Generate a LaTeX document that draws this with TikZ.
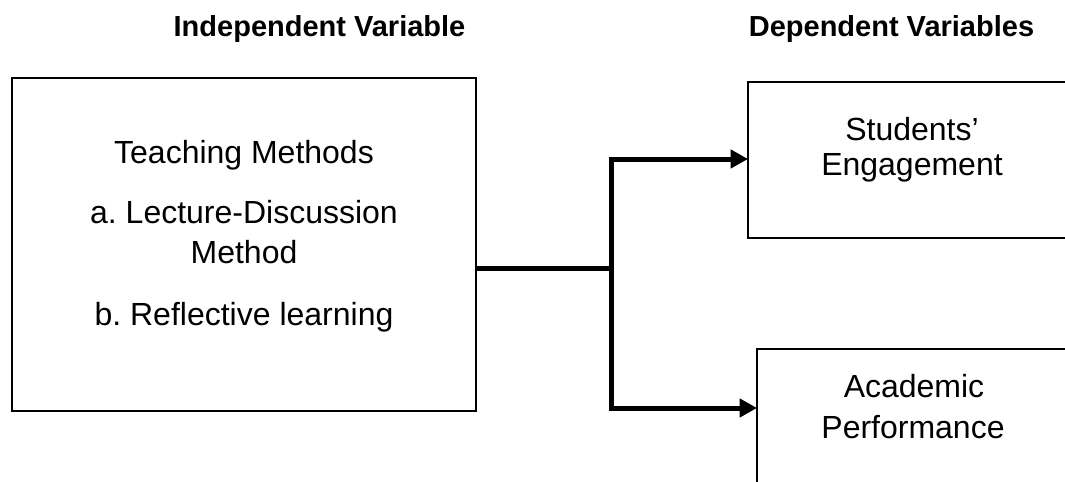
\documentclass[tikz,border=0pt]{standalone}
\usepackage{fontspec}
\setmainfont{Liberation Sans}
\usetikzlibrary{arrows.meta}
\frenchspacing
\begin{document}
\begin{tikzpicture}[x=0.75pt,y=-0.75pt,
  boxa/.style={draw=black,line width=1.6pt,inner sep=0pt,outer sep=0pt},
  boxb/.style={draw=black,line width=1.3pt,inner sep=0pt,outer sep=0pt},
  head/.style={font=\fontsize{21.75pt}{26pt}\selectfont\bfseries,anchor=base,inner sep=0pt},
  body/.style={font=\fontsize{24pt}{29pt}\selectfont,anchor=base,inner sep=0pt},
  conn/.style={line width=3.75pt,line join=miter},
  tip/.style={-{Triangle[length=13pt,width=13.5pt]}}]
\useasboundingbox (0,0) rectangle (1065,482);
\clip (0,0) rectangle (1065,482);
% headings
\node[head] (hi) at (319.5,36) {Independent Variable};
\node[head] (hd) at (891.5,36) {Dependent Variables};
% boxes
\node[boxa,minimum width=348pt,minimum height=249.75pt] (tm) at (244,244.5) {};
\node[boxb,minimum width=249pt,minimum height=117pt] (se) at (914,160) {};
\node[boxb,minimum width=242.25pt,minimum height=113.25pt] (ap) at (918.5,424.5) {};
% texts
\node[body] (t1) at (244,163) {Teaching Methods};
\node[body] (t2) at (244,223) {a.\ Lecture-Discussion};
\node[body] (t3) at (244,263) {Method};
\node[body] (t4) at (244,325) {b.\ Reflective learning};
\node[body] (s1) at (912,140) {Students’};
\node[body] (s2) at (912,175) {Engagement};
\node[body] (a1) at (914,397) {Academic};
\node[body] (a2) at (913,438) {Performance};
% connectors
\coordinate (jn) at (611,268);
\coordinate (ya) at (0,159);
\coordinate (yb) at (0,408);
\draw[conn] (tm.east |- jn) -- (jn);
\draw[conn,tip] (jn) |- (se.west |- ya);
\draw[conn,tip] (jn) |- (ap.west |- yb);
\end{tikzpicture}
\end{document}
